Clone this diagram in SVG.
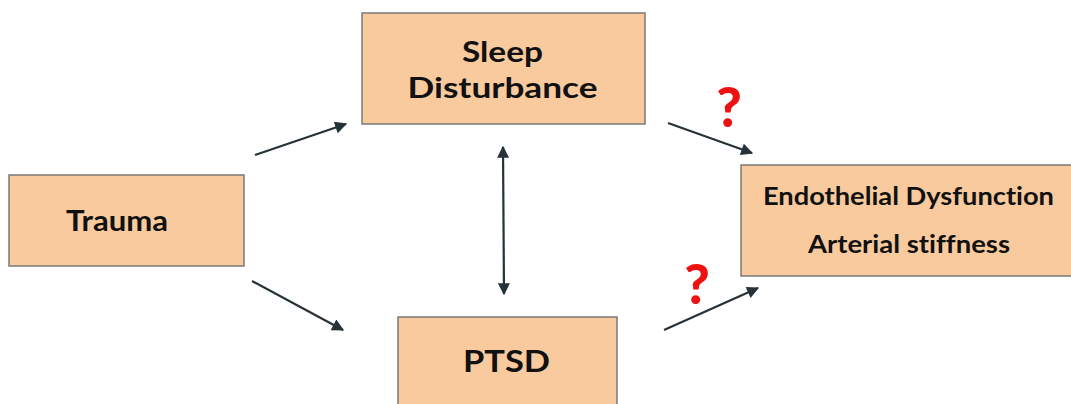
<svg xmlns="http://www.w3.org/2000/svg" width="1071" height="404" viewBox="0 0 1071 404">
<style>
.box{fill:#f8ca9d;stroke:#7a7a7a;stroke-width:1.5}
.t{font-family:Lato,"Open Sans",sans-serif;font-weight:700;fill:#111;text-anchor:middle;font-variant-ligatures:none}
.q{font-family:Lato,"Open Sans",sans-serif;font-weight:900;fill:#ee1111;text-anchor:middle;font-size:55px}
.c{stroke:#263238;stroke-width:2.2;fill:none}
</style>
<defs>
<marker id="ah" viewBox="0 0 10 10" refX="9" refY="5" markerWidth="15" markerHeight="12" markerUnits="userSpaceOnUse" orient="auto-start-reverse">
<path d="M0,0 L10,5 L0,10 z" fill="#263238"/>
</marker>
</defs>
<rect width="1071" height="404" fill="#fff"/>
<g id="trauma">
<rect class="box" x="9" y="175" width="235" height="91"/>
<text class="t" x="117" y="231" font-size="29" textLength="102" lengthAdjust="spacingAndGlyphs">Trauma</text>
</g>
<g id="sleep">
<rect class="box" x="362" y="13" width="283" height="111"/>
<text class="t" x="502.5" y="62" font-size="29" textLength="81" lengthAdjust="spacingAndGlyphs">Sleep</text>
<text class="t" x="502.5" y="98" font-size="29" textLength="190" lengthAdjust="spacingAndGlyphs">Disturbance</text>
</g>
<g id="ptsd">
<rect class="box" x="398" y="317" width="219" height="100"/>
<text class="t" x="506.5" y="372" font-size="30" textLength="87" lengthAdjust="spacingAndGlyphs">PTSD</text>
</g>
<g id="endo">
<rect class="box" x="741" y="165" width="340" height="111"/>
<text class="t" x="908.5" y="205" font-size="24.5" textLength="291" lengthAdjust="spacingAndGlyphs">Endothelial Dysfunction</text>
<text class="t" x="909" y="253" font-size="24.5" textLength="202" lengthAdjust="spacingAndGlyphs">Arterial stiffness</text>
</g>
<g id="connectors">
<line class="c" x1="255" y1="155" x2="346" y2="124" marker-end="url(#ah)"/>
<line class="c" x1="252" y1="281" x2="343" y2="330" marker-end="url(#ah)"/>
<line class="c" x1="503" y1="147" x2="504" y2="294" marker-start="url(#ah)" marker-end="url(#ah)"/>
<line class="c" x1="668" y1="123" x2="752" y2="153" marker-end="url(#ah)"/>
<line class="c" x1="664" y1="330" x2="758" y2="288" marker-end="url(#ah)"/>
</g>
<text class="q" x="729" y="127">?</text>
<text class="q" x="697" y="304">?</text>
</svg>
